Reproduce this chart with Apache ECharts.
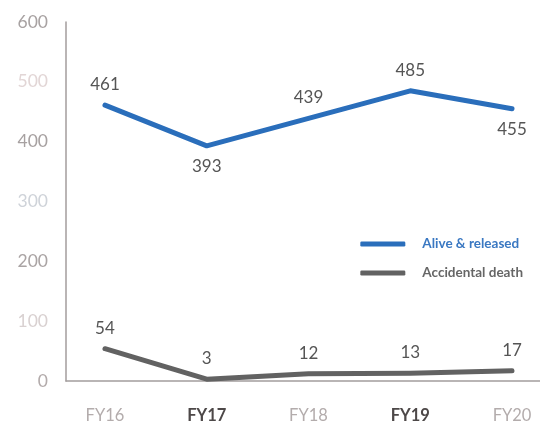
<!DOCTYPE html>
<html><head><meta charset="utf-8">
<script src="https://cdn.jsdelivr.net/npm/echarts@6/dist/echarts.min.js"></script>
<style>html,body{margin:0;padding:0;background:#fff}#c{width:540px;height:426px}</style>
</head><body><div id="c"></div>
<script>
const categories = ['FY16','FY17','FY18','FY19','FY20'];
const boldCategories = ['FY17','FY19'];
const aliveReleased = [461, 393, 439, 485, 455];
const accidentalDeath = [54, 3, 12, 13, 17];
const aliveLabelPos = ['top','bottom','top','top','bottom'];
const yTicks = [0,100,200,300,400,500,600];

const chart = echarts.init(document.getElementById('c'));
const idx = categories.map((_, i) => i);
const font = 'Lato, "Open Sans", sans-serif';
const yColors = {0:'#b3abab',100:'#d9d1d1',200:'#aaa4a4',300:'#cfd3d9',400:'#a7a1a1',500:'#e2d6d6',600:'#a8a2a2'};

chart.setOption({
  animation: false,
  grid: {left: 66, right: 0, top: 22, bottom: 45, containLabel: false},
  legend: {
    orient: 'vertical', right: 12, top: 232, itemWidth: 45, itemHeight: 5, itemGap: 15,
    icon: 'roundRect',
    textStyle: {fontFamily: font, fontSize: 13.5, fontWeight: 'bold', padding: [0, 0, 0, 12]},
    data: [
      {name: 'Alive & released', textStyle: {color: '#3a78c2'}},
      {name: 'Accidental death', textStyle: {color: '#666'}}
    ]
  },
  xAxis: {
    type: 'value', min: -0.383, max: 4.275,
    axisLine: {show: true, onZero: false, lineStyle: {color: '#a39d9d', width: 1.5}},
    axisTick: {show: false}, splitLine: {show: false},
    axisLabel: {
      customValues: idx, margin: 26, fontFamily: font, fontSize: 16.5,
      formatter: v => {
        const c = categories[Math.round(v)];
        return boldCategories.includes(c) ? '{b|' + c + '}' : '{n|' + c + '}';
      },
      rich: {
        b: {color: '#4d4848', fontWeight: 'bold', fontSize: 16.5, fontFamily: font},
        n: {color: '#b3acac', fontSize: 16.5, fontFamily: font}
      }
    }
  },
  yAxis: {
    type: 'value', min: 0, max: 600, interval: 100,
    axisLine: {show: true, onZero: false, lineStyle: {color: '#a39d9d', width: 1.5}},
    axisTick: {show: false}, splitLine: {show: false},
    axisLabel: {
      margin: 18, fontFamily: font, fontSize: 17.5,
      formatter: v => '{t' + v + '|' + v + '}',
      rich: Object.fromEntries(yTicks.map(t => ['t' + t, {color: yColors[t], fontSize: 17.5, fontFamily: font}]))
    }
  },
  series: [
    {
      name: 'Alive & released', type: 'line', showSymbol: true, symbol: 'circle', symbolSize: 0.01,
      color: '#2a6ebb',
      lineStyle: {width: 5, color: '#2a6ebb', cap: 'round', join: 'round'},
      data: aliveReleased.map((v, i) => ({value: [i, v], label: {show: true, position: aliveLabelPos[i]}})),
      label: {show: true, distance: 12, color: '#555', fontSize: 17, fontFamily: font, formatter: p => p.value[1]}
    },
    {
      name: 'Accidental death', type: 'line', showSymbol: true, symbol: 'circle', symbolSize: 0.01,
      color: '#626262',
      lineStyle: {width: 5, color: '#626262', cap: 'round', join: 'round'},
      data: accidentalDeath.map((v, i) => [i, v]),
      label: {show: true, position: 'top', distance: 12, color: '#555', fontSize: 17, fontFamily: font, formatter: p => p.value[1]}
    }
  ]
});
</script></body></html>
